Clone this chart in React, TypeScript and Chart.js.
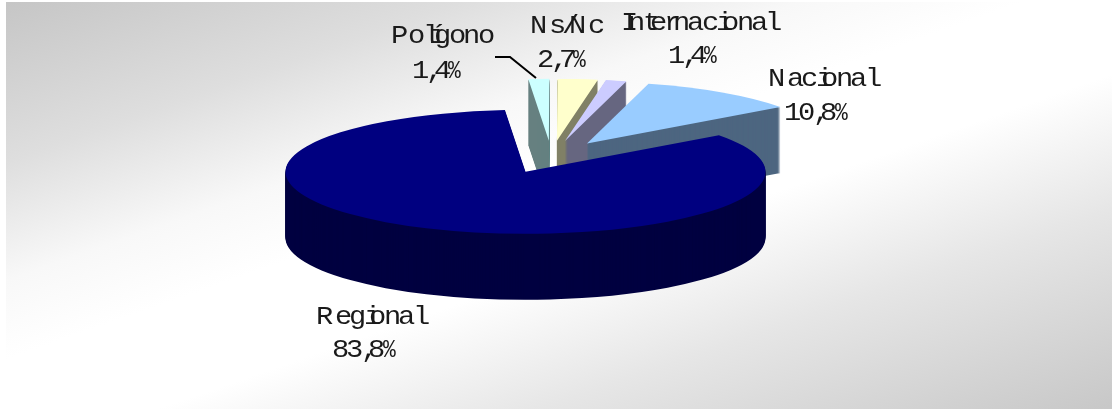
import React, { useEffect, useRef } from "react";
import { Chart, registerables } from "chart.js";

Chart.register(...registerables);

const categories = ["Regional", "Polígono", "Ns/Nc", "Internacional", "Nacional"];
const values = [83.8, 1.4, 2.7, 1.4, 10.8];
const valueLabels = ["83,8%", "1,4%", "2,7%", "1,4%", "10,8%"];
const topColors = ["#000080", "#ccffff", "#ffffcc", "#ccccff", "#99ccff"];
const wallColors = ["#000040", "#668080", "#808066", "#666680", "#4d6680"];

const nameAnchors = [[316, 325], [391, 44], [530, 34], [621, 31], [768, 87]];
const valueAnchors = [[332, 358], [412, 79], [537, 68], [668, 64], [784, 121]];

const W = 1112;
const H = 409;
const FLATTEN = 0.258;
const DEPTH = 66;
const EXPLODE = 63;
const RADIUS = 240;

const ADVANCE_EM = 26;
const narrow: Record<string, number> = {
  i: 0.222, "í": 0.222, l: 0.222, I: 0.278, t: 0.278, r: 0.333, "/": 0.278, ",": 0.278,
  N: 0.722, R: 0.722, P: 0.667, s: 0.5, "%": 0.889,
};

function Spaced({ text, x, base }: { text: string; x: number; base: number }) {
  return (
    <div
      style={{
        position: "absolute", left: x, top: base - 21, height: 28,
        font: '25px/28px "Liberation Mono"', color: "#1a1a1a", whiteSpace: "nowrap",
      }}
    >
      {Array.from(text).map((ch, i) => (
        <span
          key={i}
          style={{
            display: "inline-block",
            width: (narrow[ch] ?? 0.556) * ADVANCE_EM,
            transform: ch === "%" ? "scaleX(0.85)" : "scaleX(1.15)",
            transformOrigin: "0 50%",
          }}
        >
          {ch}
        </span>
      ))}
    </div>
  );
}

const pie3d = {
  id: "pie3d",
  beforeDraw(chart: any) {
    const { ctx } = chart;
    const dx = 0.33, dy = 0.94, L = 374;
    const g = ctx.createLinearGradient(559 - dx * L, 205 - dy * L, 559 + dx * L, 205 + dy * L);
    g.addColorStop(0, "#c6c6c6");
    g.addColorStop(0.2, "#dedede");
    g.addColorStop(0.35, "#f8f8f8");
    g.addColorStop(0.45, "#ffffff");
    g.addColorStop(0.58, "#ffffff");
    g.addColorStop(0.75, "#e6e6e6");
    g.addColorStop(1, "#c8c8c8");
    ctx.save();
    ctx.fillStyle = "#ffffff";
    ctx.fillRect(0, 0, W, H);
    ctx.fillStyle = g;
    ctx.fillRect(6, 2, W - 6, H - 2);
    ctx.restore();
  },
  beforeDatasetsDraw(chart: any) {
    const { ctx } = chart;
    const arcs = chart.getDatasetMeta(0).data;
    const order = [1, 2, 3, 4, 0];
    const style = (color: string) => ({
      backgroundColor: color, borderColor: color, borderWidth: 0, offset: 0, spacing: 0,
      circular: true, borderAlign: "center", borderRadius: 0, borderJoinStyle: "round",
    });
    for (const i of order) {
      const arc = arcs[i];
      const mid = (arc.startAngle + arc.endAngle) / 2;
      const paint = (d: number, color: string) => {
        ctx.save();
        ctx.translate(arc.x, arc.y + d);
        ctx.scale(1, FLATTEN);
        ctx.translate(-arc.x, -arc.y);
        ctx.translate(Math.cos(mid) * EXPLODE, Math.sin(mid) * EXPLODE);
        const saved = arc.options;
        arc.options = style(color);
        arc.draw(ctx);
        arc.options = saved;
        ctx.restore();
      };
      for (let d = DEPTH; d >= 1; d--) paint(d, wallColors[i]);
      paint(0, topColors[i]);
    }
    ctx.save();
    ctx.strokeStyle = "#000000";
    ctx.lineWidth = 2;
    ctx.beginPath();
    ctx.moveTo(495, 57);
    ctx.lineTo(510, 57);
    ctx.lineTo(536, 78);
    ctx.stroke();
    ctx.restore();
    return false;
  },
};

export default function App() {
  const ref = useRef<HTMLCanvasElement>(null);
  useEffect(() => {
    const chart = new Chart(ref.current!, {
      type: "pie",
      data: {
        labels: categories,
        datasets: [{ data: values, backgroundColor: topColors, borderWidth: 0 }],
      },
      options: {
        responsive: false,
        animation: false,
        rotation: 53.7,
        radius: RADIUS,
        layout: { padding: { left: 0, top: 0, right: 9, bottom: 95 } },
        plugins: { legend: { display: false }, tooltip: { enabled: false }, title: { display: false } },
      },
      plugins: [pie3d],
    } as any);
    return () => chart.destroy();
  }, []);
  return (
    <div style={{ position: "absolute", left: 0, top: 0, width: W, height: H, overflow: "hidden" }}>
      <canvas ref={ref} width={W} height={H} style={{ display: "block" }} />
      {categories.map((c, i) => (
        <React.Fragment key={c}>
          <Spaced text={c} x={nameAnchors[i][0]} base={nameAnchors[i][1]} />
          <Spaced text={valueLabels[i]} x={valueAnchors[i][0]} base={valueAnchors[i][1]} />
        </React.Fragment>
      ))}
    </div>
  );
}
